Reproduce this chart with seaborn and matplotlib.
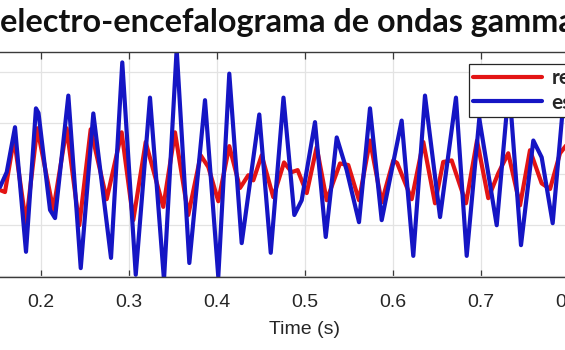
import matplotlib
matplotlib.use("Agg")
import matplotlib.pyplot as plt
from matplotlib.lines import Line2D
import pandas as pd
import seaborn as sns

# Reference (recorded) gamma-band EEG trace
t_real = [0.1538, 0.1594, 0.1697, 0.1833, 0.1961, 0.2143, 0.2295, 0.2439, 0.2568,
          0.2750, 0.2920, 0.3052, 0.3193, 0.3393, 0.3526, 0.3677, 0.3818, 0.3905,
          0.4018, 0.4143, 0.4265, 0.4359, 0.4416, 0.4511, 0.4643, 0.4765, 0.4852,
          0.4920, 0.5023, 0.5136, 0.5250, 0.5401, 0.5495, 0.5617, 0.5742, 0.5875,
          0.6007, 0.6050, 0.6216, 0.6348, 0.6481, 0.6574, 0.6670, 0.6833, 0.6958,
          0.7086, 0.7200, 0.7313, 0.7447, 0.7560, 0.7693, 0.7788, 0.7901, 0.8015]
v_real = [-0.31, -0.35, 0.70, -0.96, 0.90, -0.70, 0.90, -1.00, 0.88,
          -0.49, 0.82, -0.90, 0.63, -0.64, 0.82, -0.80, 0.37, 0.14,
          -0.53, 0.55, -0.27, -0.02, -0.12, 0.37, -0.45, 0.23, 0.04,
          0.08, -0.37, 0.53, -0.51, 0.21, 0.18, -0.51, 0.66, -0.55,
          0.27, 0.22, -0.49, 0.63, -0.57, 0.24, 0.27, -0.57, 0.66,
          -0.47, 0.02, 0.41, -0.61, 0.47, -0.18, -0.29, 0.41, 0.66]

# Estimated trace
t_est = [0.1538, 0.1614, 0.1708, 0.1833, 0.1946, 0.1975, 0.2106, 0.2163, 0.2314,
         0.2455, 0.2598, 0.2799, 0.2927, 0.3080, 0.3242, 0.3401, 0.3545, 0.3689,
         0.3867, 0.4018, 0.4143, 0.4284, 0.4484, 0.4614, 0.4759, 0.4882, 0.4966,
         0.5117, 0.5239, 0.5364, 0.5477, 0.5617, 0.5742, 0.5875, 0.6102, 0.6234,
         0.6367, 0.6538, 0.6719, 0.6841, 0.6984, 0.7182, 0.7322, 0.7458, 0.7598,
         0.7693, 0.7818, 0.7924, 0.8037]
v_est = [-0.25, 0.04, 0.92, -1.52, 1.29, 1.20, -0.70, -0.86, 1.54,
         -1.84, 1.19, -1.64, 2.19, -1.97, 1.50, -2.07, 2.45, -1.74,
         1.45, -2.01, 1.97, -1.35, 1.17, -1.54, 1.50, -0.80, -0.51,
         1.02, -1.23, 0.72, 0.08, -0.94, 1.29, -0.90, 1.05, -1.60,
         1.54, -0.84, 1.50, -1.60, 1.09, -1.00, 1.74, -1.39, 0.66,
         0.33, -0.96, 1.11, 1.30]

series_names = ["real", "estimada"]
series_colors = ["#e31414", "#1515c4"]
x_ticks = [0.2, 0.3, 0.4, 0.5, 0.6, 0.7, 0.8]
y_ticks = [-2, -1, 0, 1, 2]

df = pd.concat([
    pd.DataFrame({"t": t_real, "v": v_real, "serie": series_names[0]}),
    pd.DataFrame({"t": t_est, "v": v_est, "serie": series_names[1]}),
], ignore_index=True)

sns.set_theme(style="whitegrid")
plt.rcParams["font.family"] = ["Liberation Sans", "DejaVu Sans"]

W, H = 565, 350
fig = plt.figure(figsize=(W / 100, H / 100), dpi=100)
fig.patch.set_facecolor("white")

# Axes extend past the figure edges on the left and right
ax_left_px, ax_right_px = -47.3, 656.7
ax_top_px, ax_bot_px = 51.7, 277.3
ax = fig.add_axes([ax_left_px / W, 1 - ax_bot_px / H,
                   (ax_right_px - ax_left_px) / W, (ax_bot_px - ax_top_px) / H])
ax.set_facecolor("white")

sns.lineplot(data=df, x="t", y="v", hue="serie", estimator=None, sort=False,
             palette=dict(zip(series_names, series_colors)),
             linewidth=3.0, ax=ax, legend=False)

ax.set_xlim(0.1, 0.9)
ax.set_ylim(-2.02, 2.40)
ax.set_xticks(x_ticks)
ax.set_xticklabels([f"{x:.1f}" for x in x_ticks])
ax.set_yticks(y_ticks)
ax.grid(True, color="#e3e3e3", linewidth=0.9)
for s in ax.spines.values():
    s.set_color("#3a3a3a")
    s.set_linewidth(1.0)
ax.tick_params(axis="x", direction="in", length=5, width=0.9, color="#3a3a3a",
               top=True, bottom=True, labelsize=14, labelcolor="#262626", pad=12)
ax.tick_params(axis="y", direction="in", length=5, left=True, right=True,
               labelleft=False, labelright=False)
ax.set_xlabel("Time (s)", fontsize=14, color="#262626", labelpad=7)
ax.set_ylabel("")

# Legend
handles = [Line2D([], [], color=c, lw=3.0) for c in series_colors]
leg = fig.legend(handles, series_names, loc="upper left",
                 bbox_to_anchor=(469 / W, 1 - 64 / H), borderaxespad=0,
                 frameon=True, fancybox=False,
                 edgecolor="#262626", framealpha=1, handlelength=3.3, handletextpad=0.45,
                 borderpad=0.2, labelspacing=0.22,
                 prop={"family": "Lato", "weight": "bold", "size": 15})
leg.get_frame().set_linewidth(0.9)

fig.text(0.5 / W, 1 - 32 / H, "electro-encefalograma de ondas gamma",
         fontsize=23.3, fontweight="bold", family="Lato", color="#111111",
         ha="left", va="baseline")

fig.savefig("out.png", dpi=100)
